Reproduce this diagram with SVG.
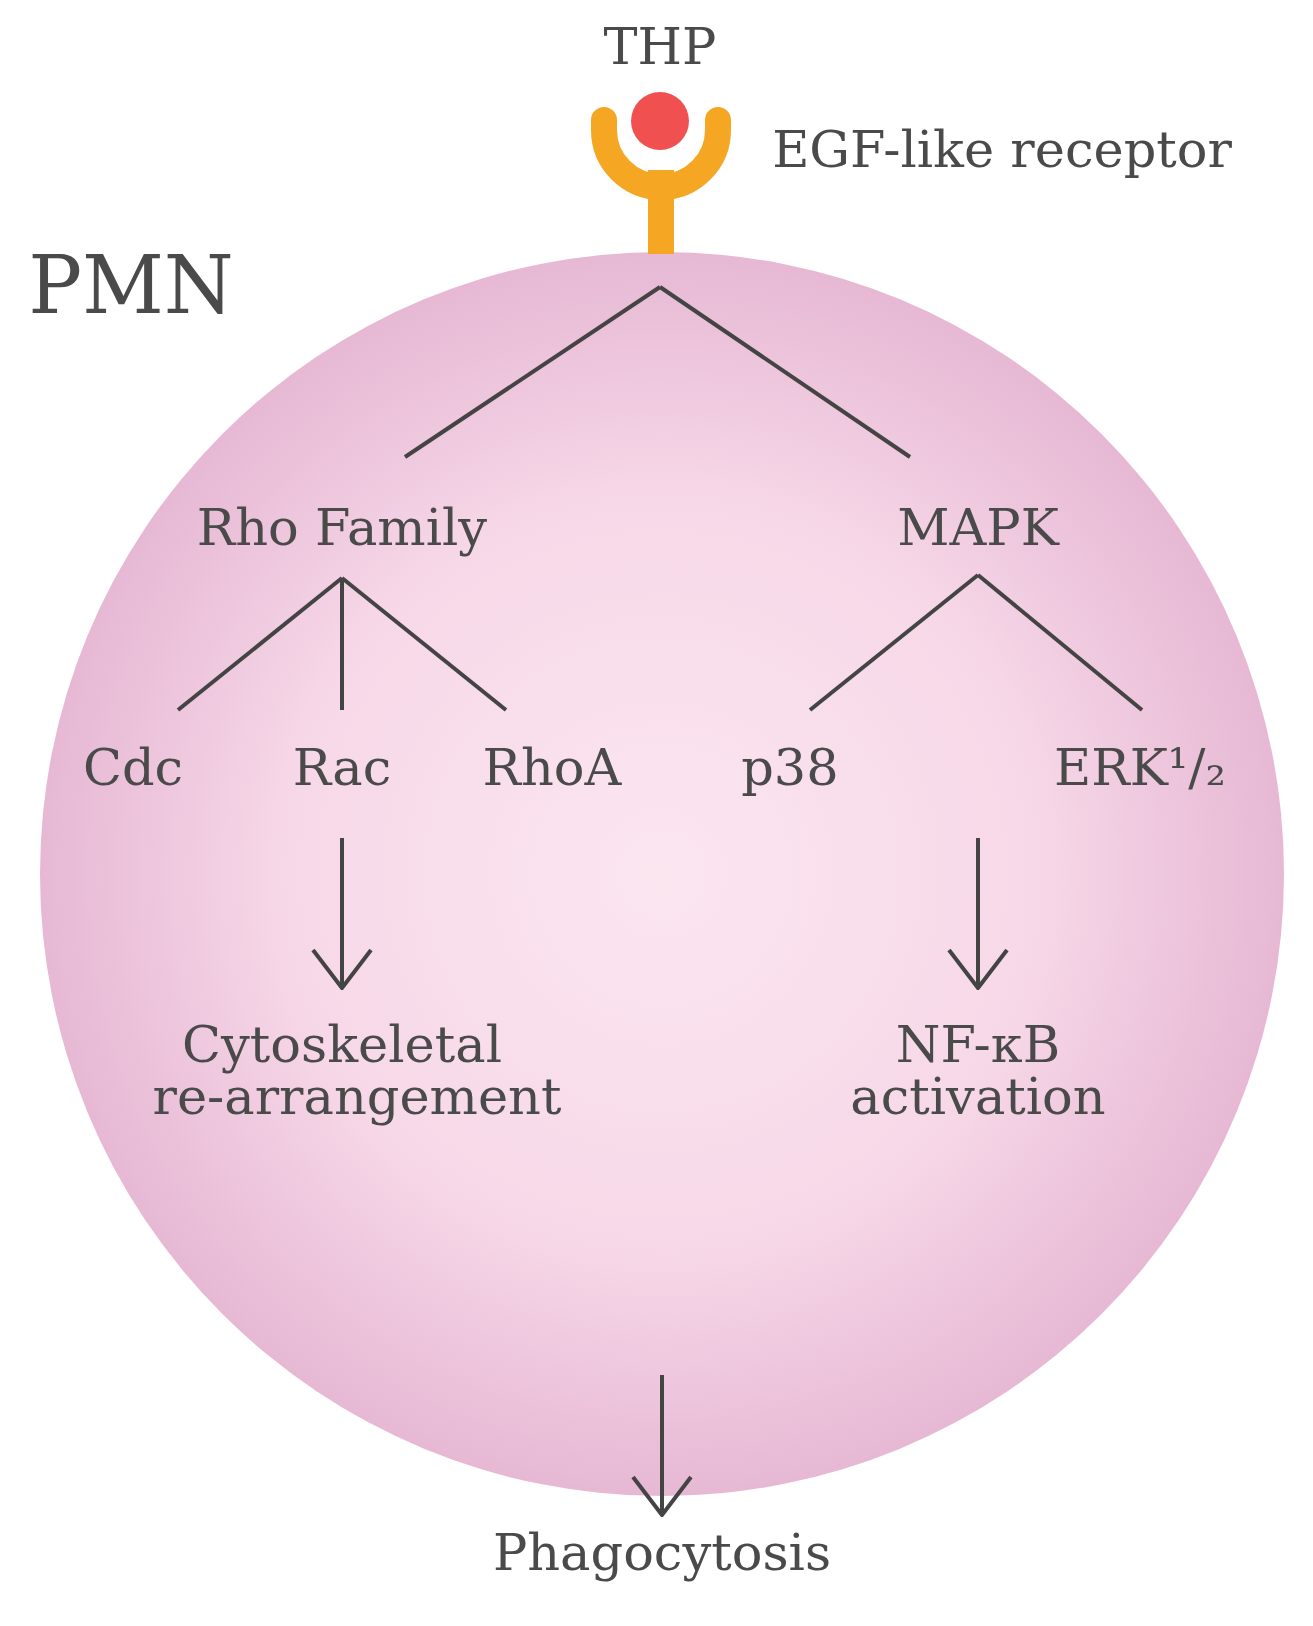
<svg xmlns="http://www.w3.org/2000/svg" width="1313" height="1626" viewBox="0 0 1313 1626">
<defs>
<radialGradient id="g" cx="0.5" cy="0.5" r="0.5">
<stop offset="0" stop-color="#fbe6f0"/><stop offset="0.6" stop-color="#f7d8e8"/><stop offset="1" stop-color="#e6b8d4"/>
</radialGradient>
<marker id="a" viewBox="0 0 42 62" refX="40" refY="31" markerWidth="42" markerHeight="62" markerUnits="userSpaceOnUse" orient="auto">
<path d="M2 2 L40 31 L2 60" fill="none" stroke="#444" stroke-width="4"/>
</marker>
<style>
text{font-family:"DejaVu Serif","Liberation Serif",serif;fill:#4a4a4a;text-anchor:middle}
.t{font-size:51px}
line{stroke:#444;stroke-width:4}
</style>
</defs>
<g id="cell"><circle cx="662" cy="874" r="622" fill="url(#g)"/></g>
<g id="receptor">
<rect x="648" y="170" width="26" height="84" fill="#f5a623"/>
<path d="M604 120 L604 130 A57 57 0 0 0 718 130 L718 120" fill="none" stroke="#f5a623" stroke-width="26" stroke-linecap="round"/>
<circle cx="660" cy="121" r="29" fill="#f05050"/>
</g>
<g id="labels">
<text class="t" x="660" y="64">THP</text>
<text class="t" x="1002" y="167">EGF-like receptor</text>
<text x="131" y="313" font-size="80">PMN</text>
</g>
<g id="rho"><text class="t" x="342" y="545">Rho Family</text></g>
<g id="mapk"><text class="t" x="978" y="545">MAPK</text></g>
<g id="cdc"><text class="t" x="133" y="785">Cdc</text></g>
<g id="rac"><text class="t" x="342" y="785">Rac</text></g>
<g id="rhoa"><text class="t" x="552" y="785">RhoA</text></g>
<g id="p38"><text class="t" x="790" y="785">p38</text></g>
<g id="erk"><text class="t" x="1140" y="785">ERK¹/₂</text></g>
<g id="cyto"><text class="t" x="342" y="1062">Cytoskeletal</text><text class="t" x="357" y="1114">re-arrangement</text></g>
<g id="nfkb"><text class="t" x="978" y="1062">NF-κB</text><text class="t" x="978" y="1114">activation</text></g>
<g id="phago"><text class="t" x="662" y="1570">Phagocytosis</text></g>
<g id="connectors">
<line x1="660" y1="287" x2="405" y2="457"/>
<line x1="660" y1="287" x2="910" y2="457"/>
<line x1="342" y1="578" x2="178" y2="710"/>
<line x1="342" y1="578" x2="342" y2="710"/>
<line x1="342" y1="578" x2="506" y2="710"/>
<line x1="978" y1="575" x2="810" y2="710"/>
<line x1="978" y1="575" x2="1142" y2="710"/>
<line x1="342" y1="838" x2="342" y2="988" marker-end="url(#a)"/>
<line x1="978" y1="838" x2="978" y2="988" marker-end="url(#a)"/>
<line x1="662" y1="1375" x2="662" y2="1515" marker-end="url(#a)"/>
</g>
</svg>
